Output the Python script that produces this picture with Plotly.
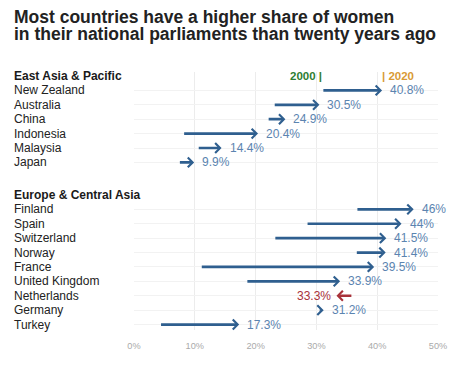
import plotly.graph_objects as go

# ---------------- data ----------------
group1 = "East Asia & Pacific"
countries1 = ["New Zealand", "Australia", "China", "Indonesia", "Malaysia", "Japan"]
start1 = [30.9, 22.9, 21.9, 8.0, 10.4, 7.3]
end1 = [40.8, 30.5, 24.9, 20.4, 14.4, 9.9]

group2 = "Europe & Central Asia"
countries2 = ["Finland", "Spain", "Switzerland", "Norway", "France",
              "United Kingdom", "Netherlands", "Germany", "Turkey"]
start2 = [36.5, 28.3, 23.0, 36.4, 10.9, 18.4, 36.0, 30.3, 4.2]
end2 = [46.0, 44.0, 41.5, 41.4, 39.5, 33.9, 33.3, 31.2, 17.3]

end_labels1 = ["40.8%", "30.5%", "24.9%", "20.4%", "14.4%", "9.9%"]
end_labels2 = ["46%", "44%", "41.5%", "41.4%", "39.5%", "33.9%", "33.3%", "31.2%", "17.3%"]

x_ticks = [0, 10, 20, 30, 40, 50]
x_tick_labels = ["0%", "10%", "20%", "30%", "40%", "50%"]

title_lines = ["Most countries have a higher share of women",
               "in their national parliaments than twenty years ago"]

# ---------------- layout geometry ----------------
OFF = 8                  # page body margin
W, H = 456 - 2 * OFF, 382 - 2 * OFF
PLOT_L, PLOT_R, PLOT_T, PLOT_B = 134, 438.5, 72, 330   # window pixels
ML, MR, MT, MB = PLOT_L - OFF, (W + OFF) - PLOT_R, PLOT_T - OFF, (H + OFF) - PLOT_B
PH = H - MT - MB

header1_row = 0.0
rows1 = [1 + i for i in range(len(countries1))]
header2_row = 8.26
rows2 = [header2_row + 1 + i for i in range(len(countries2))]

ARROW = "#2f5f8f"
LABEL = "#5b84b0"
RED = "#a8323a"
FONT = "Liberation Sans, Arial, sans-serif"

fig = go.Figure()
fig.add_trace(go.Scatter(x=start1 + start2 + end1 + end2,
                         y=rows1 + rows2 + rows1 + rows2,
                         mode="markers", marker=dict(opacity=0), hoverinfo="skip",
                         showlegend=False))

ann = []
left_px = 12 - PLOT_L

def paper_y(window_px):
    return 1 + (PLOT_T - window_px) / PH

for i, line in enumerate(title_lines):
    ann.append(dict(x=0, xref="paper", xshift=left_px, y=paper_y(16.5 + 18 * i), yref="paper",
                    text=f"<b>{line}</b>", showarrow=False, xanchor="left", yanchor="middle",
                    font=dict(size=17.5, color="#222222", family=FONT)))

def add_header(text, row):
    ann.append(dict(x=0, xref="paper", xshift=left_px, y=row, yref="y",
                    text=f"<b>{text}</b>", showarrow=False, xanchor="left",
                    yanchor="middle", font=dict(size=12, color="#1a1a1a", family=FONT)))

def add_rows(countries, rows, starts, ends, labels):
    for c, r, s, e, lab in zip(countries, rows, starts, ends, labels):
        ann.append(dict(x=0, xref="paper", xshift=left_px, y=r, yref="y",
                        text=c, showarrow=False, xanchor="left", yanchor="middle",
                        font=dict(size=12, color="#222222", family=FONT)))
        up = e >= s
        col = ARROW if up else RED
        ann.append(dict(x=e, y=r, xref="x", yref="y", ax=s, ay=r, axref="x", ayref="y",
                        text="", showarrow=True, arrowhead=4, arrowsize=0.7,
                        arrowwidth=2.7, arrowcolor=col, standoff=0, startstandoff=0))
        ann.append(dict(x=e, y=r, xref="x", yref="y", text=lab, showarrow=False,
                        xanchor="left" if up else "right",
                        xshift=6 if up else -3, yanchor="middle",
                        font=dict(size=12, color=LABEL if up else RED, family=FONT)))

add_header(group1, header1_row)
add_rows(countries1, rows1, start1, end1, end_labels1)
add_header(group2, header2_row)
add_rows(countries2, rows2, start2, end2, end_labels2)

ann.append(dict(x=start1[0], y=header1_row, xref="x", yref="y", text="<b>2000 |</b>",
                showarrow=False, xanchor="right", yanchor="middle", xshift=2,
                font=dict(size=11.5, color="#2e7d32", family=FONT)))
ann.append(dict(x=end1[0], y=header1_row, xref="x", yref="y", text="<b>| 2020</b>",
                showarrow=False, xanchor="left", yanchor="middle", xshift=-2,
                font=dict(size=11.5, color="#d99a35", family=FONT)))

fig.update_layout(
    width=W, height=H,
    margin=dict(l=ML, r=MR, t=MT, b=MB, autoexpand=False),
    paper_bgcolor="white", plot_bgcolor="white",
    annotations=ann,
    showlegend=False,
)
fig.update_xaxes(range=[0, 50], tickvals=x_ticks, ticktext=x_tick_labels,
                 showgrid=True, gridcolor="#ececec", gridwidth=1, zeroline=False,
                 showline=False, ticks="outside", ticklen=7, tickcolor="rgba(0,0,0,0)",
                 automargin=False,
                 tickfont=dict(size=9.2, color="#aaaaaa", family=FONT), fixedrange=True)
fig.update_yaxes(range=[17.64, -0.28], tickvals=rows1 + rows2, showticklabels=False,
                 showgrid=True, gridcolor="#f2f2f2", gridwidth=1, zeroline=False,
                 showline=False, automargin=False, fixedrange=True)

fig.write_html("out.html")
